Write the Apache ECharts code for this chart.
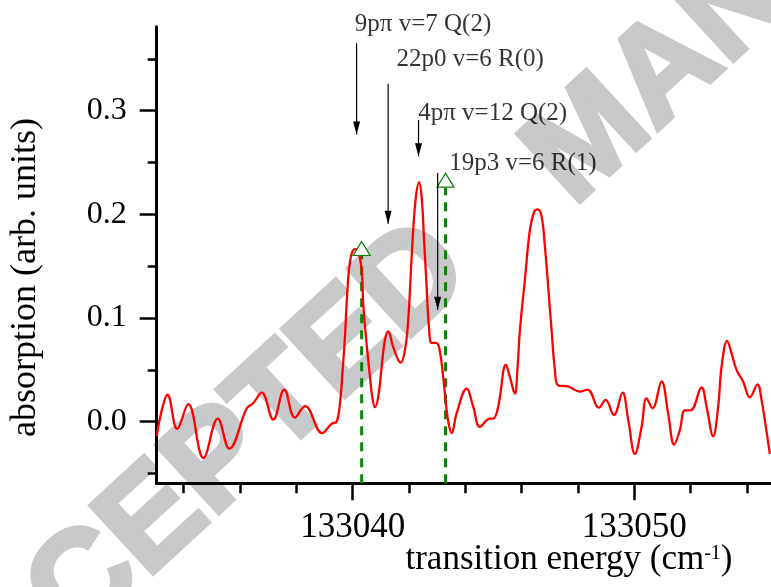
<!DOCTYPE html>
<html>
<head>
<meta charset="utf-8">
<script src="https://cdn.jsdelivr.net/npm/echarts@6/dist/echarts.min.js"></script>
<style>
html,body{margin:0;padding:0;background:#fff;}
#chart{width:771px;height:587px;}
</style>
</head>
<body>
<div id="chart"></div>
<script>
// spectrum
var energy = [133033.04,133033.22,133033.42,133033.77,133034.16,133034.70,133035.21,133035.62,133036.24,133036.47,
	133036.77,133037.18,133037.57,133037.95,133038.31,133038.92,133039.25,133039.43,133039.55,133039.645,
	133039.727,133039.787,133039.869,133039.964,133040.082,133040.199,133040.32,133040.376,133040.472,133040.59,
	133040.696,133040.792,133040.909,133041.03,133041.147,133041.264,133041.442,133041.705,133041.857,133041.974,
	133042.07,133042.152,133042.248,133042.354,133042.45,133042.532,133042.628,133042.709,133042.805,133042.958,
	133043.075,133043.217,133043.31,133043.41,133043.516,133043.693,133044.048,133044.283,133044.521,133044.876,
	133044.993,133045.17,133045.444,133045.586,133045.764,133045.845,133045.941,133046.119,133046.296,133046.449,
	133046.57,133046.712,133046.829,133046.946,133047.067,133047.184,133047.301,133047.656,133048.072,133048.345,
	133048.746,133048.984,133049.279,133049.588,133049.787,133050.025,133050.263,133050.44,133050.653,133050.973,
	133051.207,133051.42,133051.623,133051.8,133052.003,133052.393,133052.571,133052.805,133052.983,133053.104,
	133053.303,133053.459,133053.636,133053.871,133054.109,133054.382,133054.524,133054.641,133054.819];
var absorption = [-0.014,0.011,0.026,-0.007,0.017,-0.035,0.003,-0.026,0.013,0.018,
	0.028,0.002,0.031,0.004,0.015,-0.011,-0.002,0.000,0.018,0.050,
	0.082,0.114,0.146,0.162,0.1665,0.164,0.146,0.114,0.082,0.050,
	0.024,0.014,0.024,0.053,0.079,0.087,0.072,0.057,0.069,0.098,
	0.146,0.185,0.217,0.231,0.217,0.178,0.130,0.092,0.076,0.076,
	0.071,0.043,0.018,-0.002,-0.011,0.008,0.032,0.0145,-0.005,0.003,
	0.003,0.0145,0.055,0.043,0.027,0.047,0.088,0.137,0.185,0.2025,
	0.2048,0.198,0.169,0.130,0.088,0.050,0.035,0.034,0.029,0.031,
	0.0135,0.021,0.0065,0.028,0.002,-0.031,-0.005,0.0226,0.013,0.039,
	0.008,-0.022,-0.008,0.011,0.011,0.033,0.0145,-0.014,0.0145,0.053,
	0.078,0.066,0.050,0.0386,0.0235,0.036,0.021,0.0016,-0.031];

// green dashed sticks with open triangles
var stickEnergy = [133040.32, 133043.30];
var stickTop = [0.160, 0.226];
var markerValue = [0.167, 0.233];

// arrows and their labels
var arrowEnergy = [133040.14, 133041.26, 133042.34, 133043.02];
var arrowFrom = [0.365, 0.326, 0.291, 0.240];
var arrowTo = [0.277, 0.191, 0.256, 0.108];
var noteText = ['9pπ v=7 Q(2)', '22p0 v=6 R(0)', '4pπ v=12 Q(2)', '19p3 v=6 R(1)'];
var noteEnergy = [133040.08, 133041.56, 133042.33, 133043.43];
var noteValue = [0.3707, 0.3375, 0.2854, 0.2372];

// ticks
var xMajor = [133040, 133050];
var xMinor = [133034, 133036, 133038, 133042, 133044, 133046, 133048, 133052, 133054];
var yMajor = [0, 0.1, 0.2, 0.3];
var yMinor = [-0.05, 0.05, 0.15, 0.25, 0.35];

var xMin = 133033.04, xMax = 133054.86;
var yMin = -0.0594, yMax = 0.381;
var serif = '"Liberation Serif", "Times New Roman", serif';

var spectrum = [];
for(var i=0;i<energy.length;i++){
	spectrum.push([energy[i], absorption[i]]);
}

var series = [];

for(var i=0;i<stickEnergy.length;i++){
	series.push({
		type: 'line',
		data: [[stickEnergy[i], yMin], [stickEnergy[i], stickTop[i]]],
		symbol: 'none',
		lineStyle: {color: '#0a820a', width: 3, type: [9, 7]},
		z: 3
	});
}

series.push({
	type: 'line',
	data: spectrum,
	symbol: 'none',
	smooth: 0.4,
	lineStyle: {color: '#ff0000', width: 2.3},
	z: 4
});

var markers = [];
for(var i=0;i<stickEnergy.length;i++){
	markers.push([stickEnergy[i], markerValue[i]]);
}
series.push({
	type: 'scatter',
	data: markers,
	symbol: 'triangle',
	symbolSize: [17, 14],
	itemStyle: {color: '#ffffff', borderColor: '#0a820a', borderWidth: 1.2, opacity: 1},
	z: 5
});

var tips = [];
for(var i=0;i<arrowEnergy.length;i++){
	series.push({
		type: 'line',
		data: [[arrowEnergy[i], arrowFrom[i]], [arrowEnergy[i], arrowTo[i]]],
		symbol: 'none',
		lineStyle: {color: '#000', width: 1.2},
		z: 6
	});
	tips.push([arrowEnergy[i], arrowTo[i]]);
}
series.push({
	type: 'scatter',
	data: tips,
	symbol: 'triangle',
	symbolRotate: 180,
	symbolSize: [7, 13],
	symbolOffset: [0, '-50%'],
	itemStyle: {color: '#000', opacity: 1},
	z: 6
});

var notes = [];
for(var i=0;i<noteText.length;i++){
	notes.push([noteEnergy[i], noteValue[i]]);
}
series.push({
	type: 'scatter',
	data: notes,
	symbolSize: 0.1,
	itemStyle: {color: 'rgba(0,0,0,0)'},
	label: {
		show: true,
		position: [0, 0],
		align: 'left',
		verticalAlign: 'bottom',
		color: '#000',
		fontFamily: serif,
		fontSize: 25,
		formatter: function(p){ return noteText[p.dataIndex]; }
	},
	z: 7
});

function axisBase(){
	return {
		type: 'value',
		splitLine: {show: false}
	};
}

// watermark, two words laid along the diagonal
function stamp(text, x, y){
	return {
		type: 'text',
		z: -10,
		silent: true,
		x: x, y: y,
		rotation: 42.6 * Math.PI / 180,
		style: {
			text: text,
			fill: '#c8c9cb',
			stroke: '#c8c9cb',
			lineWidth: 5,
			font: 'bold 134px "Liberation Sans", Arial, sans-serif',
			textAlign: 'center', align: 'center',
			textVerticalAlign: 'middle', verticalAlign: 'middle'
		}
	};
}

var option = {
	animation: false,
	backgroundColor: '#ffffff',
	grid: {left: 156.7, top: 26.7, right: 0, bottom: 103.7, containLabel: false},
	xAxis: [
		Object.assign(axisBase(), {
			min: xMin, max: xMax,
			position: 'bottom',
			axisLine: {onZero: false, lineStyle: {color: '#000', width: 3}},
			axisTick: {customValues: xMajor, length: 17, lineStyle: {color: '#000', width: 2.5}},
			axisLabel: {
				customValues: xMajor,
				margin: 27,
				color: '#000',
				fontFamily: serif,
				fontSize: 35,
				formatter: function(v){ return String(v); }
			}
		}),
		Object.assign(axisBase(), {
			min: xMin, max: xMax,
			position: 'bottom',
			axisLine: {show: false, onZero: false},
			axisTick: {customValues: xMinor, length: 10, lineStyle: {color: '#000', width: 2.5}},
			axisLabel: {show: false}
		})
	],
	yAxis: [
		Object.assign(axisBase(), {
			min: yMin, max: yMax,
			axisLine: {show: true, onZero: false, lineStyle: {color: '#000', width: 3}},
			axisTick: {show: true, customValues: yMajor, length: 17, lineStyle: {color: '#000', width: 2.5}},
			axisLabel: {
				customValues: yMajor,
				margin: 30,
				color: '#000',
				fontFamily: serif,
				fontSize: 32,
				formatter: function(v){ return v.toFixed(1); }
			}
		}),
		Object.assign(axisBase(), {
			min: yMin, max: yMax,
			position: 'left',
			axisLine: {show: false, onZero: false},
			axisTick: {show: true, customValues: yMinor, length: 9, lineStyle: {color: '#000', width: 2.5}},
			axisLabel: {show: false}
		})
	],
	graphic: [
		stamp('ACCEPTED', 179, 499),
		stamp('MANUSCRIPT', 877, -122),
		{
			type: 'text',
			x: 26, y: 277.5,
			rotation: Math.PI / 2,
			style: {
				text: 'absorption (arb. units)',
				fill: '#000',
				font: '36px ' + serif,
				textAlign: 'center', align: 'center',
				textVerticalAlign: 'middle', verticalAlign: 'middle'
			}
		},
		{
			type: 'text',
			x: 569, y: 559.5,
			style: {
				text: '{a|transition energy (cm}{s|-1}{a|)}',
				fill: '#000',
				textAlign: 'center', align: 'center',
				textVerticalAlign: 'middle', verticalAlign: 'middle',
				rich: {
					a: {fontFamily: serif, fontSize: 35, fill: '#000', color: '#000'},
					s: {fontFamily: serif, fontSize: 20, fill: '#000', color: '#000', padding: [0, 0, 11, 0]}
				}
			}
		}
	],
	series: series
};

for(var i=0;i<option.series.length;i++){
	option.series[i].silent = true;
	option.series[i].xAxisIndex = 0;
	option.series[i].yAxisIndex = 0;
}

var myChart = echarts.init(document.getElementById('chart'));
myChart.setOption(option);
</script>
</body>
</html>
